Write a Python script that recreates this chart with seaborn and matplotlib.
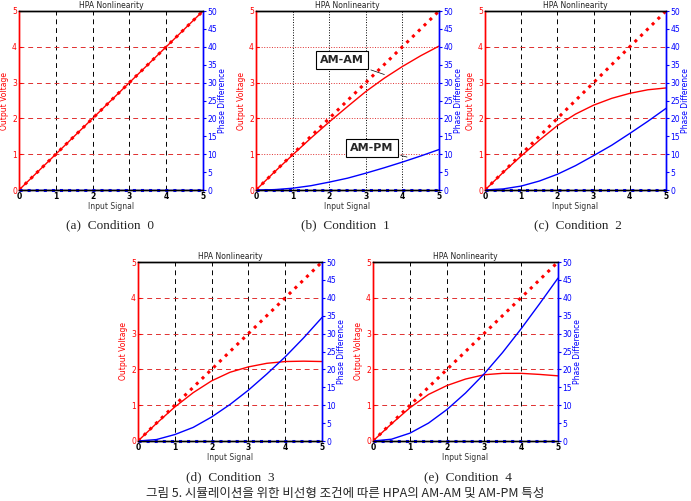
import numpy as np
import seaborn as sns
import matplotlib.pyplot as plt

# input amplitude samples (read at 0.5 steps)
x_in = [0, 0.5, 1, 1.5, 2, 2.5, 3, 3.5, 4, 4.5, 5]
linear_ref = [0, 0.5, 1, 1.5, 2, 2.5, 3, 3.5, 4, 4.5, 5]
zero_phase = [0, 0, 0, 0, 0, 0, 0, 0, 0, 0, 0]

amam_0 = [0, 0.5, 1, 1.5, 2, 2.5, 3, 3.5, 4, 4.5, 5]
ampm_0 = [0, 0, 0, 0, 0, 0, 0, 0, 0, 0, 0]
amam_1 = [0, 0.5, 0.98, 1.45, 1.9, 2.33, 2.75, 3.12, 3.45, 3.75, 4.02]
ampm_1 = [0, 0.1, 0.5, 1.2, 2.2, 3.3, 4.7, 6.2, 7.8, 9.5, 11.3]
amam_2 = [0, 0.49, 0.95, 1.39, 1.8, 2.12, 2.37, 2.56, 2.7, 2.8, 2.85]
ampm_2 = [0, 0.3, 1.1, 2.5, 4.4, 6.8, 9.6, 12.5, 15.8, 19.2, 22.8]
amam_3 = [0, 0.49, 0.95, 1.35, 1.68, 1.92, 2.07, 2.17, 2.22, 2.23, 2.22]
ampm_3 = [0, 0.4, 1.8, 3.8, 6.7, 10.2, 14.2, 18.7, 23.5, 28.8, 34.5]
amam_4 = [0, 0.48, 0.93, 1.3, 1.55, 1.73, 1.85, 1.89, 1.89, 1.86, 1.82]
ampm_4 = [0, 0.5, 2.2, 5.0, 8.8, 13.4, 18.7, 24.7, 31.3, 38.3, 45.5]

amam = [amam_0, amam_1, amam_2, amam_3, amam_4]
ampm = [ampm_0, ampm_1, ampm_2, ampm_3, ampm_4]
captions = ["(a)  Condition  0", "(b)  Condition  1", "(c)  Condition  2",
            "(d)  Condition  3", "(e)  Condition  4"]
fig_caption = "그림 5. 시뮬레이션을 위한 비선형 조건에 따른 HPA의 AM-AM 및 AM-PM 특성"

sns.set_style("white")
plt.rcParams['font.family'] = ['DejaVu Sans']

W, H = 691, 501
fig = plt.figure(figsize=(6.91, 5.01), dpi=100)

# axes boxes in pixels: left, top, right, bottom
boxes = [(19, 11, 203, 190), (256, 11, 439, 190), (485, 11, 666, 190),
         (138, 262, 322, 441), (373, 262, 558, 441)]
cap_pos = [(110, 225), (345, 225), (578, 225), (230, 477), (468, 477)]

for i in range(5):
    l, t, r, b = boxes[i]
    ax = fig.add_axes([l / W, 1 - b / H, (r - l) / W, (b - t) / H])
    ax2 = ax.twinx()

    ls = ':' if i == 1 else (0, (5, 4))
    ax.set_xticks([0, 1, 2, 3, 4, 5])
    ax.set_yticks([0, 1, 2, 3, 4, 5])
    ax.grid(axis='x', color='black', linestyle=ls, linewidth=0.7)
    ax.grid(axis='y', color='#e03030', linestyle=ls, linewidth=0.7)

    sns.lineplot(x=x_in, y=linear_ref, ax=ax, color='red', linestyle=':', linewidth=2.2)
    sns.lineplot(x=x_in, y=amam[i], ax=ax, color='red', linewidth=1)
    sns.lineplot(x=x_in, y=zero_phase, ax=ax2, color='blue', linestyle=':', linewidth=2.2,
                 clip_on=False)
    sns.lineplot(x=x_in, y=ampm[i], ax=ax2, color='blue', linewidth=1)

    ax.set_xlim(0, 5)
    ax.set_ylim(0, 5)
    ax2.set_ylim(0, 50)
    ax2.set_yticks(range(0, 55, 5))

    ax.tick_params(axis='x', direction='in', length=2, labelsize=5.5, pad=1.5, colors='black')
    for lab in ax.get_xticklabels():
        lab.set_fontweight('bold')
    ax.tick_params(axis='y', direction='in', length=2, labelsize=5.5, pad=1.5, colors='red')
    ax2.tick_params(axis='y', direction='out', length=2, labelsize=5.5, pad=1, colors='blue')

    for a in (ax, ax2):
        a.spines['left'].set_color('red')
        a.spines['right'].set_color('blue')
        a.spines['top'].set_color('black')
        a.spines['bottom'].set_color('black')
        for s in a.spines.values():
            s.set_linewidth(1)

    ax.set_xlabel("Input Signal", fontsize=5.5, labelpad=1, color='#333333')
    ax.set_ylabel("Output Voltage", fontsize=5.5, labelpad=2, color='red')
    ax2.set_ylabel("Phase Difference", fontsize=5.5, labelpad=0.5, color='blue')
    ax.set_title("HPA Nonlinearity", fontsize=5.5, pad=2, color='#222222')

    cx, cy = cap_pos[i]
    fig.text(cx / W, 1 - cy / H, captions[i], ha='center', va='center',
             fontsize=9.5, family='Liberation Serif')

    if i == 1:
        bbox = dict(boxstyle='square,pad=0.35', fc='white', ec='black', lw=0.8)
        ax.annotate("AM-AM", xy=(3.58, 3.2), xytext=(2.35, 3.63), fontsize=8,
                    fontweight='bold', ha='center', va='center', bbox=bbox,
                    arrowprops=dict(arrowstyle='-', color='black', lw=0.5))
        ax.annotate("AM-PM", xy=(4.2, 0.9), xytext=(3.17, 1.17), fontsize=8,
                    fontweight='bold', ha='center', va='center', bbox=bbox,
                    arrowprops=dict(arrowstyle='-', color='black', lw=0.5))

fig.text(345 / W, 1 - 493 / H, fig_caption, ha='center', va='center',
         fontsize=9, family=['Noto Sans CJK KR', 'DejaVu Sans'])

fig.savefig("out.png", dpi=100)
